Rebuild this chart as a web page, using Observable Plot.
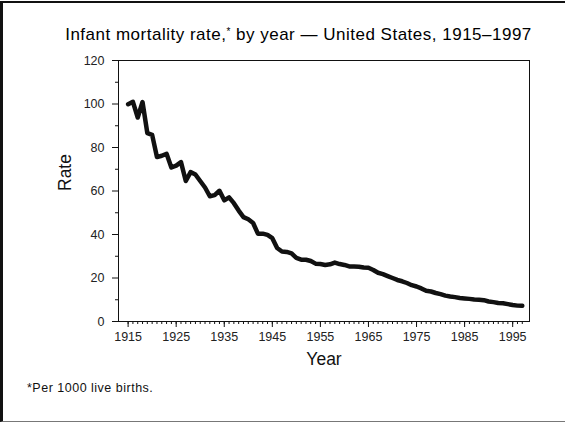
<!DOCTYPE html>
<html>
<head>
<meta charset="utf-8">
<script src="https://cdn.jsdelivr.net/npm/d3@7"></script>
<script src="https://cdn.jsdelivr.net/npm/@observablehq/plot@0.6"></script>
<style>
  html, body { margin: 0; padding: 0; background: #fff; }
  body { width: 565px; height: 424px; position: relative; overflow: hidden; font-family: "Liberation Sans", Arial, Helvetica, sans-serif; }
  #box { position: absolute; left: 0; top: 1px; width: 566px; height: 421px; box-sizing: border-box; border-left: 3px solid #111; border-top: 2px solid #111; border-bottom: 1px solid #777; }
  #title { position: absolute; left: 0; width: 597px; top: 25px; line-height: 20px; text-align: center; font-size: 17px; letter-spacing: 0.5px; color: #000; white-space: nowrap; }
  #chart { position: absolute; left: 0; top: 45px; }
  #note { position: absolute; left: 27px; top: 381px; font-size: 12.5px; letter-spacing: 0.5px; color: #111; }
</style>
</head>
<body>
<div id="box"></div>
<div id="title">Infant mortality rate,<sup style="font-size:10px;vertical-align:5px;line-height:0">*</sup> by year — United States, 1915–1997</div>
<div id="chart"></div>
<div id="note">*Per 1000 live births.</div>
<script>
const years = [1915,1916,1917,1918,1919,1920,1921,1922,1923,1924,1925,1926,1927,1928,1929,1930,1931,1932,1933,1934,1935,1936,1937,1938,1939,1940,1941,1942,1943,1944,1945,1946,1947,1948,1949,1950,1951,1952,1953,1954,1955,1956,1957,1958,1959,1960,1961,1962,1963,1964,1965,1966,1967,1968,1969,1970,1971,1972,1973,1974,1975,1976,1977,1978,1979,1980,1981,1982,1983,1984,1985,1986,1987,1988,1989,1990,1991,1992,1993,1994,1995,1996,1997];
const rates = [99.9,101.0,93.8,100.9,86.6,85.8,75.6,76.2,77.1,70.8,71.7,73.3,64.6,68.7,67.6,64.6,61.6,57.6,58.1,60.1,55.7,57.1,54.4,51.0,48.0,47.0,45.3,40.4,40.4,39.8,38.3,33.8,32.2,32.0,31.3,29.2,28.4,28.4,27.8,26.6,26.4,26.0,26.3,27.1,26.4,26.0,25.3,25.3,25.2,24.8,24.7,23.7,22.4,21.8,20.9,20.0,19.1,18.5,17.7,16.7,16.1,15.2,14.1,13.8,13.1,12.6,11.9,11.5,11.2,10.8,10.6,10.4,10.1,10.0,9.8,9.2,8.9,8.5,8.4,8.0,7.6,7.3,7.2];
const xMajorTicks = [1915,1925,1935,1945,1955,1965,1975,1985,1995];
const xMinorTicks = d3.range(1915, 1998);
const yMajorTicks = [0,20,40,60,80,100,120];
const yMinorTicks = [10,30,50,70,90,110];
const xLabel = "Year";
const yLabel = "Rate";

const data = years.map((y, i) => ({year: y, rate: rates[i]}));

const chart = Plot.plot({
  width: 565,
  height: 330,
  marginTop: 15,
  marginBottom: 54,
  marginLeft: 118,
  marginRight: 36,
  style: {fontFamily: '"Liberation Sans", Arial, sans-serif', color: "#111", background: "transparent"},
  x: {domain: [1913, 1998.5]},
  y: {domain: [0, 120]},
  marks: [
    Plot.frame({stroke: "#111", strokeWidth: 1}),
    Plot.axisX({ticks: xMinorTicks, tickSize: 3, text: null, label: null, stroke: "#111"}),
    Plot.axisX({ticks: xMajorTicks, tickSize: 6, tickPadding: 5, tickFormat: d => String(d), fontSize: 12.5, label: null, stroke: "#111", fill: "#222"}),
    Plot.axisY({ticks: yMinorTicks, tickSize: 3, text: null, label: null, stroke: "#111"}),
    Plot.axisY({ticks: yMajorTicks, tickSize: 6, tickPadding: 8, fontSize: 12.5, label: null, stroke: "#111", fill: "#222"}),
    Plot.line(data, {x: "year", y: "rate", stroke: "#111", strokeWidth: 4.5, strokeLinejoin: "round", strokeLinecap: "round"}),
    Plot.text([xLabel], {frameAnchor: "bottom", dy: 38, fontSize: 17.5, fill: "#111", lineAnchor: "middle"}),
    Plot.text([yLabel], {frameAnchor: "left", dx: -53, rotate: -90, fontSize: 17.5, fill: "#111", lineAnchor: "middle"})
  ]
});
document.getElementById("chart").appendChild(chart);
</script>
</body>
</html>
